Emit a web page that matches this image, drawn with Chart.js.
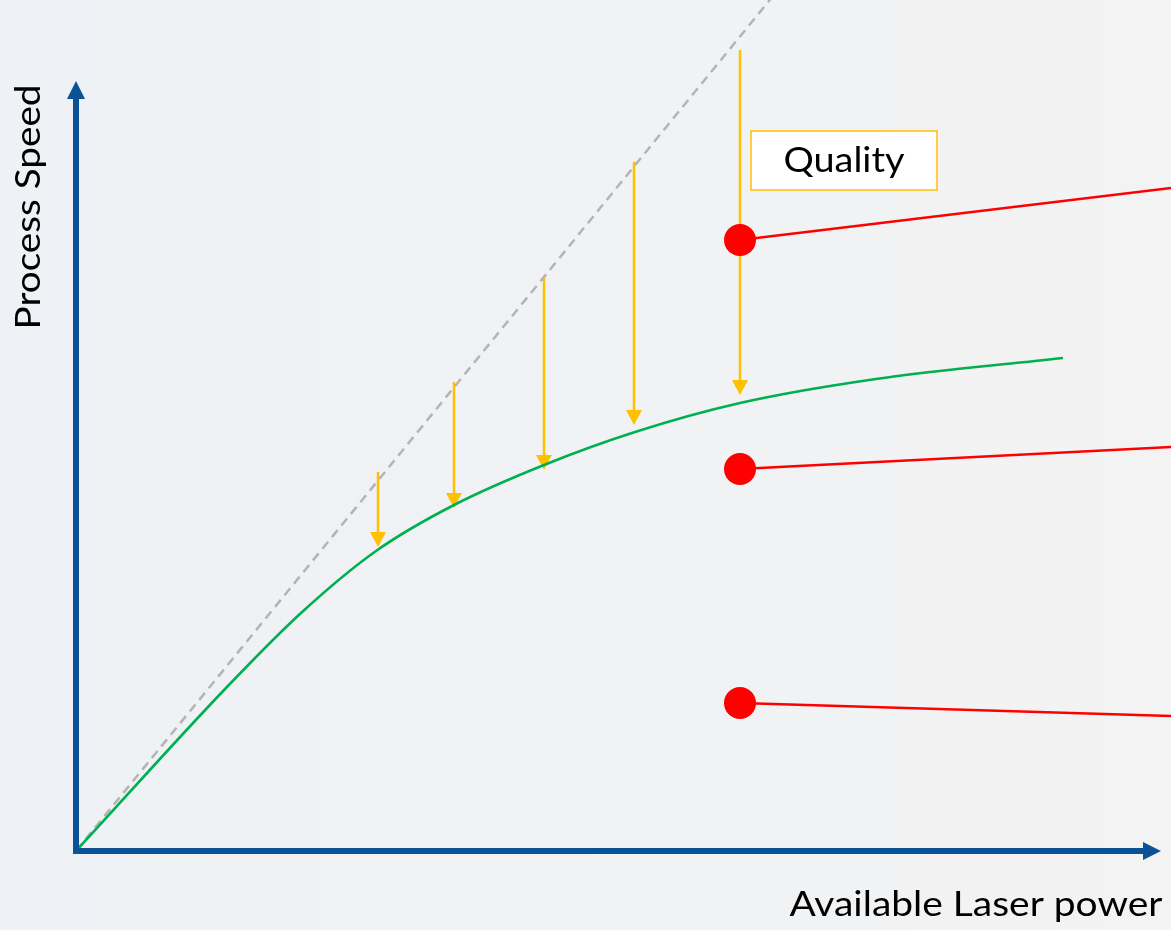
<!DOCTYPE html>
<html>
<head>
<meta charset="utf-8">
<script src="https://cdn.jsdelivr.net/npm/chart.js@4.4.1/dist/chart.umd.min.js"></script>
<style>
  html, body { margin: 0; padding: 0; background: #f1f2f3; }
  #wrap { width: 1171px; height: 930px; }
</style>
</head>
<body>
<div id="wrap"><canvas id="c" width="1171" height="930"></canvas></div>
<script>
// ---- data (units: laser power on x, process speed on y) ----
const axisTitleX = "Available Laser power";
const axisTitleY = "Process Speed";
const qualityLabel = "Quality";

// ideal (linear) relation, dashed
const idealPower = [0, 7.5];
const idealSpeed = [0, 9.2];

// real (achievable) process curve, green
const curvePower = [0, 1.50, 2.25, 3.00, 3.78, 4.68, 5.59, 6.64, 8.00, 9.87];
const curveSpeed = [0, 1.63, 2.38, 3.00, 3.46, 3.86, 4.19, 4.48, 4.72, 4.93];

// quality-loss arrows: x, start speed, end speed
const arrowPower = [3.02, 3.78, 4.68, 5.58, 6.64];
const arrowFrom  = [3.79, 4.69, 5.75, 6.89, 8.01];
const arrowTo    = [3.04, 3.43, 3.81, 4.26, 4.56];

// red markers and their leader lines
const markerPower = [6.64, 6.64, 6.64];
const markerSpeed = [6.11, 3.82, 1.48];
const leaderEndPower = [10.95, 10.95, 10.95];
const leaderEndSpeed = [6.63, 4.04, 1.35];

// axis extents
const axisMax = { x: 10.85, y: 7.70 };
// quality label box (data units)
const qualityBox = { x0: 6.75, x1: 8.61, y0: 7.20, y1: 6.61 };

// ---- build datasets ----
const pts = (xs, ys) => xs.map((x, i) => ({ x, y: ys[i] }));
const datasets = [];
datasets.push({
  data: pts(idealPower, idealSpeed), showLine: true, borderColor: '#b4b4b4',
  borderWidth: 2.5, borderDash: [9, 6], pointRadius: 0, order: 3
});
datasets.push({
  data: pts(curvePower, curveSpeed), showLine: true, borderColor: '#00b050',
  borderWidth: 2.6, pointRadius: 0, cubicInterpolationMode: 'monotone', order: 2
});
markerPower.forEach((mx, i) => {
  datasets.push({
    data: [{ x: mx, y: markerSpeed[i] }, { x: leaderEndPower[i], y: leaderEndSpeed[i] }],
    showLine: true, borderColor: '#ff0000', borderWidth: 2.5,
    pointRadius: [16, 0], pointBackgroundColor: '#ff0000', pointBorderWidth: 0,
    order: 1
  });
});

const AXIS_COLOR = '#0b5195';
const ORANGE = '#ffc000';
const FONT = 'Lato, "Open Sans", sans-serif';

function fitText(ctx, text, size, targetW) {
  ctx.font = size + 'px ' + FONT;
  const w = ctx.measureText(text).width;
  return targetW / w;
}

const deco = {
  id: 'deco',
  beforeDraw(chart) {
    const { ctx, width, height } = chart;
    const g = ctx.createLinearGradient(0, 0, width, 0);
    g.addColorStop(0, '#eef1f5');
    g.addColorStop(0.6, '#f1f2f4');
    g.addColorStop(1, '#f3f3f3');
    ctx.save();
    ctx.fillStyle = g;
    ctx.fillRect(0, 0, width, height);
    ctx.restore();
  },
  beforeDatasetsDraw(chart) {
    const { ctx, scales: { x, y } } = chart;
    ctx.save();
    ctx.strokeStyle = ORANGE;
    ctx.fillStyle = ORANGE;
    ctx.lineWidth = 2.5;
    arrowPower.forEach((ax, i) => {
      const px = x.getPixelForValue(ax);
      const y0 = y.getPixelForValue(arrowFrom[i]);
      const y1 = y.getPixelForValue(arrowTo[i]);
      const head = 15, hw = 8;
      ctx.beginPath();
      ctx.moveTo(px, y0);
      ctx.lineTo(px, y1 - head + 1);
      ctx.stroke();
      ctx.beginPath();
      ctx.moveTo(px - hw, y1 - head);
      ctx.lineTo(px + hw, y1 - head);
      ctx.lineTo(px, y1);
      ctx.closePath();
      ctx.fill();
    });
    ctx.restore();
  },
  afterDatasetsDraw(chart) {
    const { ctx, scales: { x, y } } = chart;
    const ox = x.getPixelForValue(0), oy = y.getPixelForValue(0);
    const xt = x.getPixelForValue(axisMax.x), yt = y.getPixelForValue(axisMax.y);
    ctx.save();
    ctx.strokeStyle = AXIS_COLOR;
    ctx.fillStyle = AXIS_COLOR;
    ctx.lineWidth = 6;
    ctx.lineCap = 'butt';
    const head = 18, hw = 9;
    // y axis
    ctx.beginPath();
    ctx.moveTo(ox, oy + 3);
    ctx.lineTo(ox, yt + head);
    ctx.stroke();
    ctx.beginPath();
    ctx.moveTo(ox - hw, yt + head);
    ctx.lineTo(ox + hw, yt + head);
    ctx.lineTo(ox, yt);
    ctx.closePath();
    ctx.fill();
    // x axis
    ctx.beginPath();
    ctx.moveTo(ox - 3, oy);
    ctx.lineTo(xt - head, oy);
    ctx.stroke();
    ctx.beginPath();
    ctx.moveTo(xt - head, oy - hw);
    ctx.lineTo(xt - head, oy + hw);
    ctx.lineTo(xt, oy);
    ctx.closePath();
    ctx.fill();

    // axis titles
    ctx.fillStyle = '#000000';
    ctx.textAlign = 'center';
    ctx.textBaseline = 'middle';
    let sx = fitText(ctx, axisTitleX, 34, 373);
    ctx.save();
    ctx.translate(976, 905);
    ctx.scale(sx, 1);
    ctx.fillText(axisTitleX, 0, 0);
    ctx.restore();

    sx = fitText(ctx, axisTitleY, 34, 245);
    ctx.save();
    ctx.translate(29, 207);
    ctx.rotate(-Math.PI / 2);
    ctx.scale(sx, 1);
    ctx.fillText(axisTitleY, 0, 0);
    ctx.restore();

    // quality box
    const bx0 = x.getPixelForValue(qualityBox.x0), bx1 = x.getPixelForValue(qualityBox.x1);
    const by0 = y.getPixelForValue(qualityBox.y0), by1 = y.getPixelForValue(qualityBox.y1);
    ctx.fillStyle = '#ffffff';
    ctx.fillRect(bx0, by0, bx1 - bx0, by1 - by0);
    ctx.strokeStyle = ORANGE;
    ctx.lineWidth = 1.5;
    ctx.strokeRect(bx0, by0, bx1 - bx0, by1 - by0);
    ctx.fillStyle = '#000000';
    sx = fitText(ctx, qualityLabel, 34, 121);
    ctx.save();
    ctx.translate((bx0 + bx1) / 2, (by0 + by1) / 2 + 1);
    ctx.scale(sx, 1);
    ctx.fillText(qualityLabel, 0, 0);
    ctx.restore();
    ctx.restore();
  }
};

new Chart(document.getElementById('c'), {
  type: 'scatter',
  data: { datasets },
  options: {
    responsive: false,
    animation: false,
    events: [],
    layout: { padding: 0, autoPadding: false },
    plugins: { legend: { display: false }, tooltip: { enabled: false } },
    scales: {
      x: { type: 'linear', display: false, min: -0.76, max: 10.95 },
      y: { type: 'linear', display: false, min: -0.79, max: 8.51 }
    }
  },
  plugins: [deco]
});
</script>
</body>
</html>
